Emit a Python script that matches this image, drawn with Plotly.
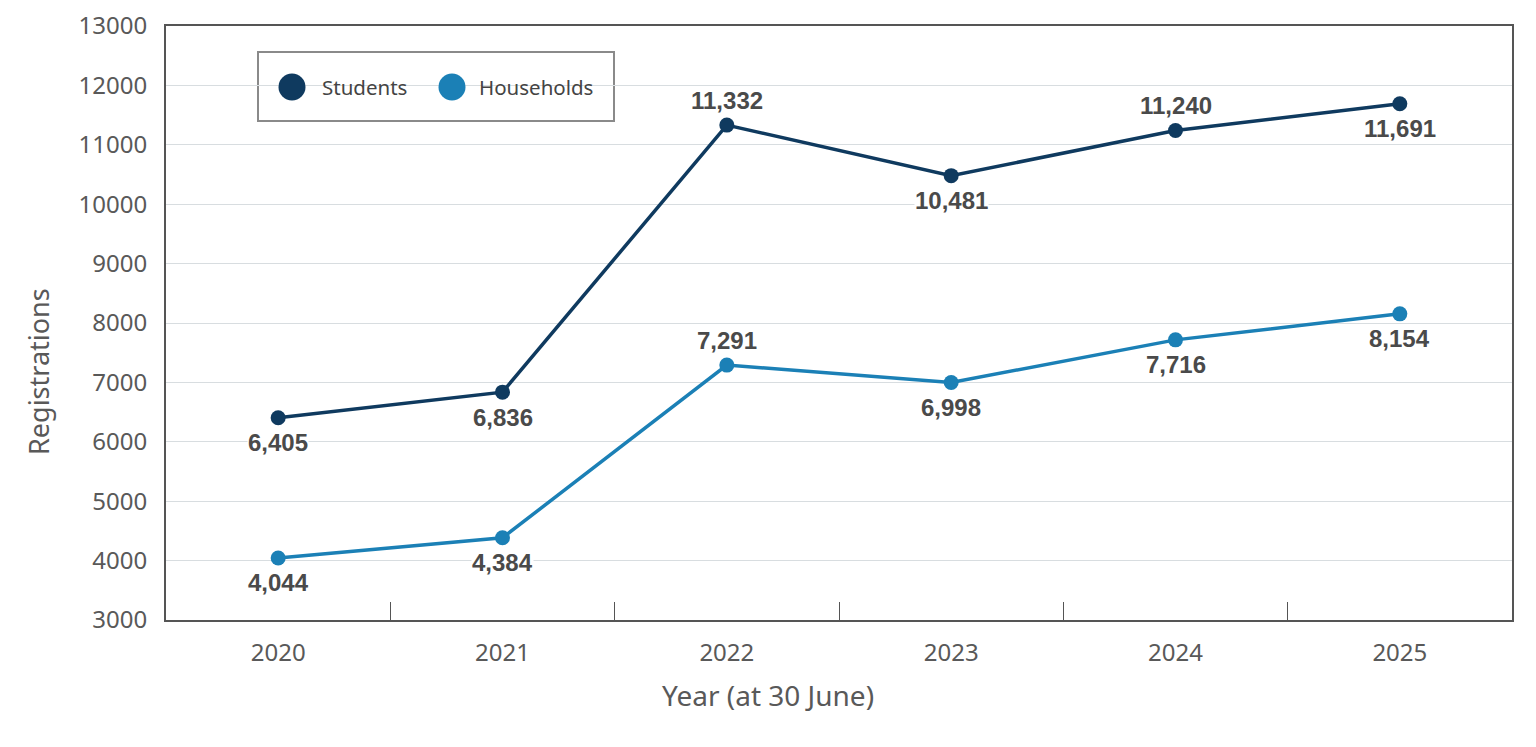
import plotly.graph_objects as go

years = ["2020", "2021", "2022", "2023", "2024", "2025"]
students = [6405, 6836, 11332, 10481, 11240, 11691]
households = [4044, 4384, 7291, 6998, 7716, 8154]
students_label_pos = ["below", "below", "above", "below", "above", "below"]
households_label_pos = ["below", "below", "above", "below", "below", "below"]
series_names = ["Students", "Households"]
x_title = "Year (at 30 June)"
y_title = "Registrations"

c_students = "#0f3a5f"
c_households = "#1b80b6"
txt = "#595959"
font_main = "Noto Sans"

W, H = 1520, 731
ML, MR, MT, MB = 158, 16, 18, 119
PW, PH = W - ML - MR, H - MT - MB

def px_x(px):  # page x -> paper
    return (px - 8 - ML) / PW

def px_y(py):  # page y -> paper
    return 1 - (py - 8 - MT) / PH

fig = go.Figure()
fig.add_trace(go.Scatter(x=years, y=students, mode="lines+markers", name=series_names[0],
                         line=dict(color=c_students, width=3.5),
                         marker=dict(color=c_students, size=15), showlegend=False))
fig.add_trace(go.Scatter(x=years, y=households, mode="lines+markers", name=series_names[1],
                         line=dict(color=c_households, width=3.5),
                         marker=dict(color=c_households, size=15), showlegend=False))

annotations = []
for vals, pos in ((students, students_label_pos), (households, households_label_pos)):
    for i, (v, p) in enumerate(zip(vals, pos)):
        annotations.append(dict(x=i, y=v, xref="x", yref="y", text=f"<b>{v:,}</b>", showarrow=False,
                                yshift=25 if p == "above" else -25,
                                font=dict(family="Liberation Sans", size=24, color="#4a4a4a"),
                                bgcolor="white", borderpad=0))

# axis titles (centred on the page, as in the original)
annotations.append(dict(x=px_x(768), y=px_y(695), xref="paper", yref="paper", text=x_title,
                        showarrow=False, xanchor="center", yanchor="middle",
                        font=dict(family=font_main, size=28, color=txt)))
annotations.append(dict(x=px_x(38), y=px_y(372), xref="paper", yref="paper", text=y_title,
                        showarrow=False, xanchor="center", yanchor="middle", textangle=-90,
                        font=dict(family=font_main, size=27, color=txt)))

# legend (drawn manually so the symbols can be large)
shapes = [dict(type="rect", xref="paper", yref="paper",
               x0=px_x(258), x1=px_x(614), y0=px_y(121), y1=px_y(52),
               line=dict(color="#8a8a8a", width=2), fillcolor="white", layer="between")]
r = 13.5
for name, color, cx, tx in ((series_names[0], c_students, 292, 320),
                            (series_names[1], c_households, 452, 477)):
    shapes.append(dict(type="circle", xref="paper", yref="paper",
                       x0=px_x(cx - r), x1=px_x(cx + r), y0=px_y(87 + r), y1=px_y(87 - r),
                       line=dict(width=0), fillcolor=color, layer="above"))
    annotations.append(dict(x=px_x(tx), y=px_y(87), xref="paper", yref="paper", text=name,
                            showarrow=False, xanchor="left", yanchor="middle",
                            font=dict(family=font_main, size=20.5, color="#444444")))

fig.update_layout(
    width=W, height=H,
    margin=dict(l=ML, r=MR, t=MT, b=MB),
    paper_bgcolor="white", plot_bgcolor="white",
    font=dict(family=font_main, color=txt),
    showlegend=False,
    annotations=annotations,
    shapes=shapes,
    xaxis=dict(type="category", range=[-0.5, 5.5], showgrid=False, automargin=False,
               showline=True, linecolor="#555555", linewidth=2, mirror=True,
               ticks="inside", tickson="boundaries", ticklen=18, tickcolor="#555555",
               tickwidth=1, tickfont=dict(size=24, color=txt), ticklabelstandoff=10),
    yaxis=dict(range=[3000, 13000], dtick=1000, tickformat="d", automargin=False,
               showgrid=True, gridcolor="#d8dde0", gridwidth=1,
               showline=True, linecolor="#555555", linewidth=2, mirror=True,
               ticks="", ticklabelstandoff=12, tickfont=dict(size=24, color=txt),
               zeroline=False),
)

fig.write_html("out.html")
